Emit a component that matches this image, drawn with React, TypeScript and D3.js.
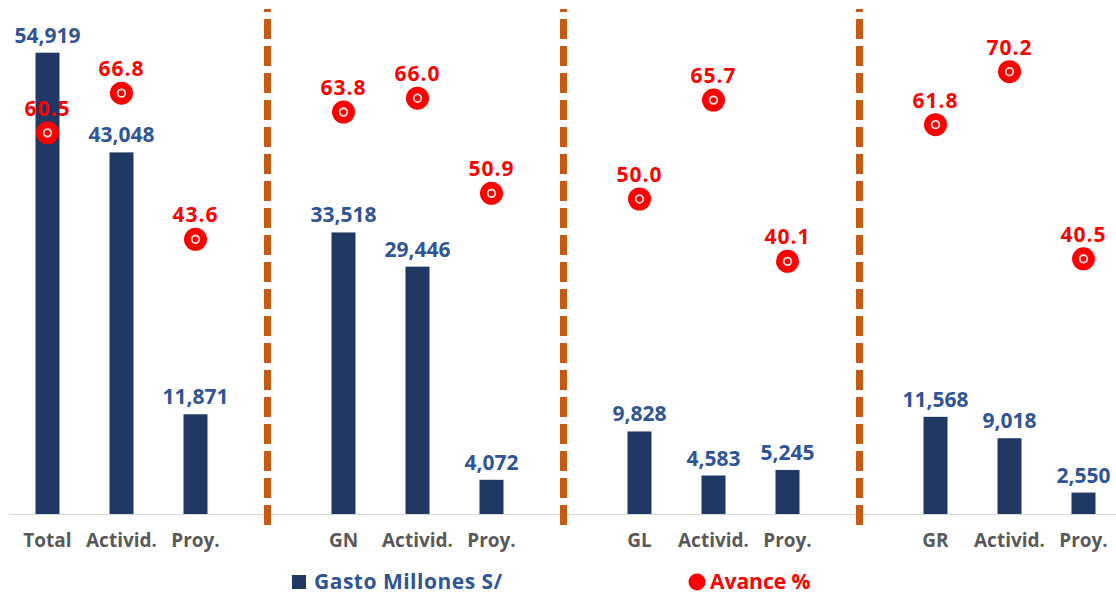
import React from "react";
import * as d3 from "d3";

const categories = ["Total", "Activid.", "Proy.", "", "GN", "Activid.", "Proy.", "", "GL", "Activid.", "Proy.", "", "GR", "Activid.", "Proy."];
const gasto: (number | null)[] = [54919, 43048, 11871, null, 33518, 29446, 4072, null, 9828, 4583, 5245, null, 11568, 9018, 2550];
const avance: (number | null)[] = [60.5, 66.8, 43.6, null, 63.8, 66.0, 50.9, null, 50.0, 65.7, 40.1, null, 61.8, 70.2, 40.5];
const legendLabels = ["Gasto Millones S/", "Avance %"];

const W = 1116;
const H = 595;
const FONT = "'Open Sans', 'DejaVu Sans', sans-serif";
const BAR = "#203864";
const BLUE = "#2F5597";
const RED = "#FF0000";
const SEP = "#C55A11";

export default function App() {
  const keys = categories.map((_, i) => String(i));
  const x = d3.scaleBand<string>().domain(keys).range([10.5, 1120.5]).padding(0);
  const y = d3.scaleLinear().domain([0, 60000]).range([514, 10]);
  const y2 = d3.scaleLinear().domain([0, 80]).range([514, 10]);
  const bw = 24;
  const cx = (i: number) => (x(String(i)) as number) + x.bandwidth() / 2;
  const fmtG = d3.format(",");
  const fmtA = d3.format(".1f");
  const separators = categories.map((c, i) => (c === "" ? i : -1)).filter((i) => i >= 0);

  return (
    <svg width={W} height={H} style={{ position: "absolute", left: 0, top: 0, background: "#fff" }}>
      <rect x={0} y={0} width={W} height={H} fill="#fff" />
      <line x1={10} x2={W} y1={514.5} y2={514.5} stroke="#D9D9D9" strokeWidth={1} />
      {gasto.map((v, i) =>
        v == null ? null : (
          <rect key={"b" + i} x={cx(i) - bw / 2} y={y(v)} width={bw} height={y(0) - y(v)} fill={BAR} />
        )
      )}
      {separators.map((i) => (
        <line
          key={"s" + i}
          x1={cx(i) - 2}
          x2={cx(i) - 2}
          y1={9}
          y2={527}
          stroke={SEP}
          strokeWidth={7}
          strokeDasharray="20 7"
          strokeDashoffset={17}
        />
      ))}
      {gasto.map((v, i) =>
        v == null ? null : (
          <text
            key={"bl" + i}
            x={cx(i)}
            y={y(v) - 10}
            textAnchor="middle"
            fontFamily={FONT}
            fontWeight={700}
            fontSize={21}
            fill={BLUE}
          >
            {fmtG(v)}
          </text>
        )
      )}
      {avance.map((v, i) =>
        v == null ? null : (
          <g key={"m" + i}>
            <circle cx={cx(i)} cy={y2(v)} r={11.5} fill={RED} />
            <circle cx={cx(i)} cy={y2(v)} r={3.8} fill={RED} stroke="#FFE0E0" strokeWidth={1.8} />
          </g>
        )
      )}
      {avance.map((v, i) =>
        v == null ? null : (
          <text
            key={"ml" + i}
            x={cx(i)}
            y={y2(v) - 17}
            textAnchor="middle"
            fontFamily={FONT}
            fontWeight={700}
            fontSize={21}
            letterSpacing={1}
            fill={RED}
          >
            {fmtA(v)}
          </text>
        )
      )}
      {categories.map((c, i) =>
        c === "" ? null : (
          <text
            key={"c" + i}
            x={cx(i)}
            y={547}
            textAnchor="middle"
            fontFamily={FONT}
            fontWeight={700}
            fontSize={19}
            fill="#595959"
          >
            {c}
          </text>
        )
      )}
      <rect x={292} y={575} width={14} height={14} fill={BAR} />
      <text x={314} y={589} fontFamily={FONT} fontWeight={700} fontSize={21} letterSpacing={0.5} fill={BLUE}>
        {legendLabels[0]}
      </text>
      <circle cx={697} cy={582} r={8.5} fill={RED} />
      <text x={710} y={589} fontFamily={FONT} fontWeight={700} fontSize={21} fill={RED}>
        {legendLabels[1]}
      </text>
    </svg>
  );
}
